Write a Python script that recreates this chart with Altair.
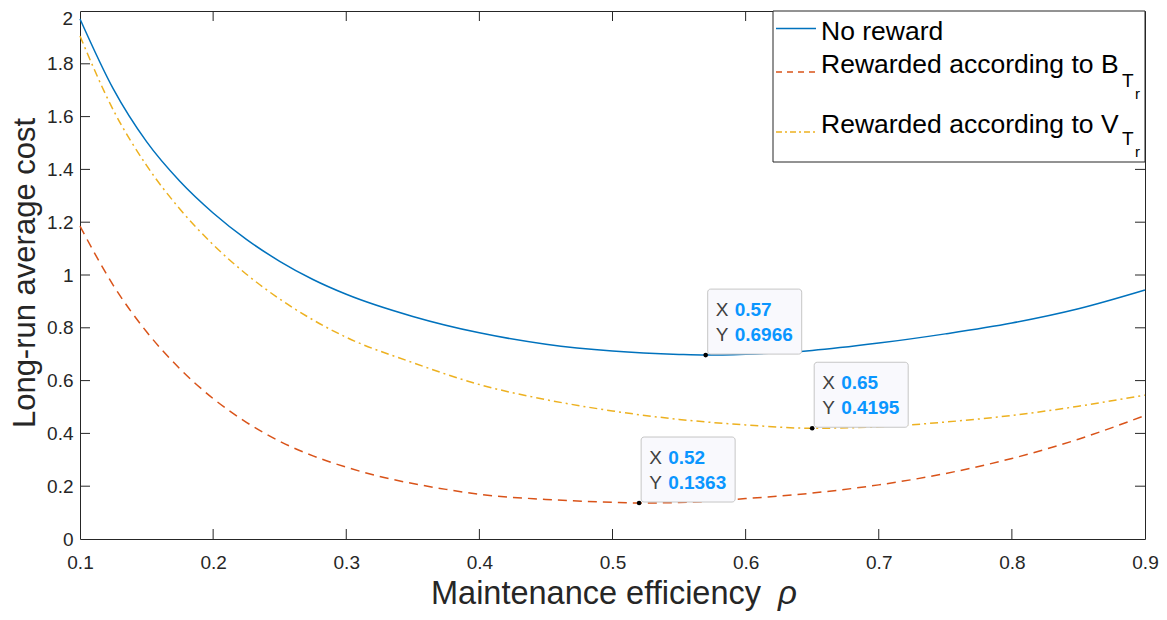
import altair as alt
import pandas as pd

# ---------------- data ----------------
rho_none = [0.1, 0.125, 0.15, 0.175, 0.2, 0.225, 0.25, 0.275, 0.3, 0.35, 0.4, 0.45, 0.5, 0.55, 0.57, 0.6, 0.65, 0.7, 0.75, 0.8, 0.85, 0.9]
cost_none = [1.970, 1.705, 1.505, 1.355, 1.235, 1.135, 1.052, 0.983, 0.927, 0.843, 0.781, 0.738, 0.712, 0.699, 0.6966, 0.700, 0.714, 0.742, 0.777, 0.818, 0.872, 0.943]

rho_B = [0.1, 0.125, 0.15, 0.175, 0.2, 0.225, 0.25, 0.275, 0.3, 0.325, 0.35, 0.375, 0.4, 0.45, 0.5, 0.52, 0.55, 0.6, 0.65, 0.7, 0.75, 0.8, 0.85, 0.9]
cost_B = [1.185, 0.961, 0.785, 0.645, 0.532, 0.442, 0.370, 0.315, 0.272, 0.237, 0.210, 0.188, 0.169, 0.150, 0.139, 0.1363, 0.138, 0.153, 0.174, 0.205, 0.248, 0.305, 0.378, 0.468]

rho_V = [0.1, 0.125, 0.15, 0.175, 0.2, 0.225, 0.25, 0.275, 0.3, 0.35, 0.4, 0.45, 0.5, 0.55, 0.6, 0.65, 0.7, 0.75, 0.8, 0.85, 0.9]
cost_V = [1.905, 1.625, 1.415, 1.250, 1.115, 1.003, 0.909, 0.830, 0.764, 0.668, 0.585, 0.528, 0.485, 0.453, 0.432, 0.4195, 0.425, 0.443, 0.468, 0.503, 0.545]

tip_x = [0.57, 0.65, 0.52]
tip_y = [0.6966, 0.4195, 0.1363]
tip_xlab = ["0.57", "0.65", "0.52"]
tip_ylab = ["0.6966", "0.4195", "0.1363"]

x_ticks = [0.1, 0.2, 0.3, 0.4, 0.5, 0.6, 0.7, 0.8, 0.9]
y_ticks = [0, 0.2, 0.4, 0.6, 0.8, 1.0, 1.2, 1.4, 1.6, 1.8]
y_top_tick = [2.0]
y_top_label = ["2"]
x_inner = [0.2, 0.3, 0.4, 0.5, 0.6, 0.7, 0.8]
y_inner = [0.2, 0.4, 0.6, 0.8, 1.0, 1.2, 1.4, 1.6, 1.8]

legend_labels = ["No reward", "Rewarded according to B", "Rewarded according to V"]
sub1 = "T"
sub2 = "r"
x_title = "Maintenance efficiency"
x_title_sym = "ρ"
y_title = "Long-run average cost"

# ---------------- style ----------------
W, H = 1065, 528
FONT = "Liberation Sans"
AX = "#262626"
C_BLUE = "#0072BD"
C_RED = "#D95319"
C_YEL = "#EDB120"

xs = alt.Scale(domain=[0.1, 0.9], nice=False, zero=False)
ys = alt.Scale(domain=[0, 2], nice=False, zero=False)
xaxis = alt.Axis(values=x_ticks, format=".1f", title=None, labelFlush=False)
yaxis = alt.Axis(values=y_ticks, format=".1~f", title=None, labelFlush=False)


def X(f):
    return alt.X(f + ":Q", scale=xs, axis=xaxis)


def Y(f):
    return alt.Y(f + ":Q", scale=ys, axis=yaxis)


one = pd.DataFrame({"a": [0]})

# ---------------- curves ----------------
l_none = alt.Chart(pd.DataFrame({"rho": rho_none, "cost": cost_none})).mark_line(
    color=C_BLUE, strokeWidth=1.5, interpolate="monotone"
).encode(x=X("rho"), y=Y("cost"))

l_B = alt.Chart(pd.DataFrame({"rho": rho_B, "cost": cost_B})).mark_line(
    color=C_RED, strokeWidth=1.5, strokeDash=[9, 6], interpolate="monotone"
).encode(x=X("rho"), y=Y("cost"))

l_V = alt.Chart(pd.DataFrame({"rho": rho_V, "cost": cost_V})).mark_line(
    color=C_YEL, strokeWidth=1.5, strokeDash=[8, 4, 2, 4], interpolate="monotone"
).encode(x=X("rho"), y=Y("cost"))

# ---------------- inner ticks (MATLAB box style) ----------------
xt_df = pd.DataFrame({"v": x_inner})
yt_df = pd.DataFrame({"v": y_inner})
tk = dict(color=AX, strokeWidth=1)
t_bot = alt.Chart(xt_df).mark_rule(**tk).encode(x=X("v"), y=alt.value(H), y2=alt.value(H - 10))
t_top = alt.Chart(xt_df).mark_rule(**tk).encode(x=X("v"), y=alt.value(0), y2=alt.value(10))
t_left = alt.Chart(yt_df).mark_rule(**tk).encode(y=Y("v"), x=alt.value(0), x2=alt.value(10))
t_right = alt.Chart(yt_df).mark_rule(**tk).encode(y=Y("v"), x=alt.value(W), x2=alt.value(W - 10))

# top y label ("2"), nudged down so it stays inside the page
top_lab = alt.Chart(pd.DataFrame({"v": y_top_tick, "l": y_top_label})).mark_text(
    font=FONT, fontSize=19, color=AX, align="right", baseline="middle", dx=-7, dy=8
).encode(y=Y("v"), x=alt.value(0), text="l:N")

# ---------------- data tips ----------------
tips = pd.DataFrame({"x": tip_x, "y": tip_y, "xl": tip_xlab, "yl": tip_ylab})
tip_box = alt.Chart(tips).mark_rect(
    fill="#f9f9fd", stroke="#c6c6c6", strokeWidth=1, cornerRadius=3,
    xOffset=2, x2Offset=96, yOffset=-1, y2Offset=-66
).encode(x=X("x"), x2=alt.X2("x"), y=Y("y"), y2=alt.Y2("y"))
tip_dot = alt.Chart(tips).mark_circle(size=22, color="black", opacity=1).encode(x=X("x"), y=Y("y"))
tf = dict(font=FONT, fontSize=19, align="left", baseline="middle")
tip_X = alt.Chart(tips).mark_text(text="X", dx=10, dy=-45, color="#404040", **tf).encode(x=X("x"), y=Y("y"))
tip_Y = alt.Chart(tips).mark_text(text="Y", dx=10, dy=-20, color="#404040", **tf).encode(x=X("x"), y=Y("y"))
tip_xv = alt.Chart(tips).mark_text(dx=29, dy=-45, color="#0a96ff", fontWeight="bold", **tf).encode(
    x=X("x"), y=Y("y"), text="xl:N")
tip_yv = alt.Chart(tips).mark_text(dx=29, dy=-20, color="#0a96ff", fontWeight="bold", **tf).encode(
    x=X("x"), y=Y("y"), text="yl:N")

# ---------------- legend ----------------
leg_box = alt.Chart(one).mark_rect(fill="white", stroke=AX, strokeWidth=1).encode(
    x=alt.value(693), x2=alt.value(W), y=alt.value(0), y2=alt.value(151))
leg_l1 = alt.Chart(one).mark_rule(color=C_BLUE, strokeWidth=1.5).encode(
    x=alt.value(696), x2=alt.value(736), y=alt.value(17.5))
leg_l2 = alt.Chart(one).mark_rule(color=C_RED, strokeWidth=1.5, strokeDash=[6, 5]).encode(
    x=alt.value(696), x2=alt.value(736), y=alt.value(61))
leg_l3 = alt.Chart(one).mark_rule(color=C_YEL, strokeWidth=1.5, strokeDash=[6, 3, 2, 3]).encode(
    x=alt.value(696), x2=alt.value(736), y=alt.value(121))
lf = dict(font=FONT, color="black", align="left", baseline="middle")
leg_t1 = alt.Chart(one).mark_text(text=legend_labels[0], fontSize=26.5, **lf).encode(
    x=alt.value(741), y=alt.value(21))
leg_t2 = alt.Chart(one).mark_text(text=legend_labels[1], fontSize=26.5, **lf).encode(
    x=alt.value(741), y=alt.value(54))
leg_t2a = alt.Chart(one).mark_text(text=sub1, fontSize=19, **lf).encode(
    x=alt.value(1042), y=alt.value(70))
leg_t2b = alt.Chart(one).mark_text(text=sub2, fontSize=15, **lf).encode(
    x=alt.value(1055), y=alt.value(83))
leg_t3 = alt.Chart(one).mark_text(text=legend_labels[2], fontSize=26.5, **lf).encode(
    x=alt.value(741), y=alt.value(113.5))
leg_t3a = alt.Chart(one).mark_text(text=sub1, fontSize=19, **lf).encode(
    x=alt.value(1042), y=alt.value(128))
leg_t3b = alt.Chart(one).mark_text(text=sub2, fontSize=15, **lf).encode(
    x=alt.value(1055), y=alt.value(141))

# ---------------- axis titles ----------------
xt_main = alt.Chart(one).mark_text(text=x_title, font=FONT, fontSize=32.5, color=AX,
                                   align="right", baseline="alphabetic").encode(
    x=alt.value(681), y=alt.value(593))
xt_sym = alt.Chart(one).mark_text(text=x_title_sym, font=FONT, fontSize=33, fontStyle="italic",
                                  color=AX, align="left", baseline="alphabetic").encode(
    x=alt.value(698), y=alt.value(593))
yt_main = alt.Chart(one).mark_text(text=y_title, font=FONT, fontSize=31, color=AX, angle=270,
                                   align="center", baseline="alphabetic").encode(
    x=alt.value(-45), y=alt.value(262))

chart = alt.layer(
    l_none, l_B, l_V,
    t_bot, t_top, t_left, t_right, top_lab,
    tip_box, tip_dot, tip_X, tip_Y, tip_xv, tip_yv,
    leg_box, leg_l1, leg_l2, leg_l3, leg_t1, leg_t2, leg_t2a, leg_t2b, leg_t3, leg_t3a, leg_t3b,
    xt_main, xt_sym, yt_main,
).properties(
    width=W, height=H,
    autosize=alt.AutoSizeParams(type="none"),
    padding={"left": 72, "top": 3, "right": 14, "bottom": 72},
    background="white",
).configure_view(
    stroke=AX, strokeWidth=1
).configure_axis(
    ticks=False, tickSize=0, domain=False, grid=False,
    labelFont=FONT, labelFontSize=19, labelColor=AX,
).configure_axisX(
    labelPadding=14
).configure_axisY(
    labelPadding=7
)

chart.save("out.html", embed_options={"renderer": "svg", "actions": False})
